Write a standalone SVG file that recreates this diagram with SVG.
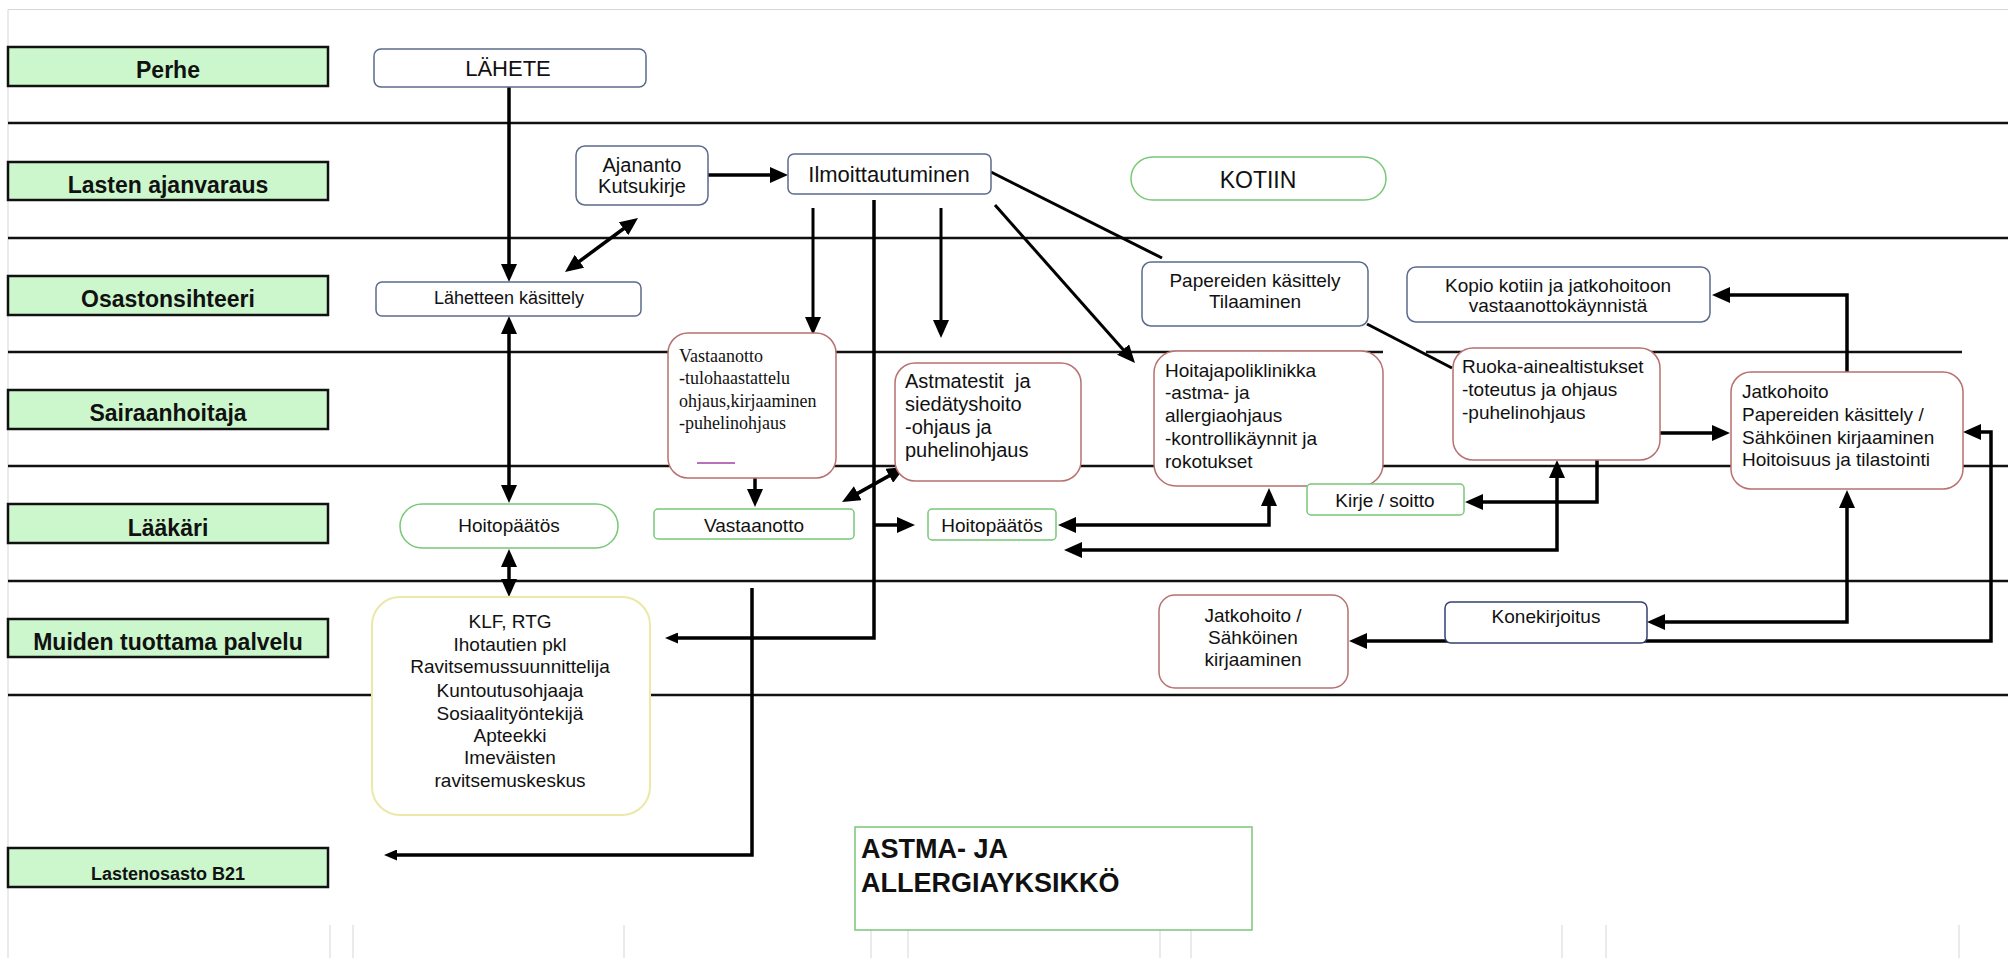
<svg xmlns="http://www.w3.org/2000/svg" width="2008" height="958" viewBox="0 0 2008 958">
<style>
text{font-family:"Liberation Sans",Arial,sans-serif;fill:#111}
.lbl{fill:#ccf7cc;stroke:#111;stroke-width:2.5}
.lt{font-weight:bold;font-size:23px;text-anchor:middle}
.lane{stroke:#111;stroke-width:2.5;fill:none}
.blue{fill:#fff;stroke:#5b6b8c;stroke-width:1.5}
.red{fill:#fff;stroke:#b87070;stroke-width:1.5}
.grn{fill:#fff;stroke:#78c878;stroke-width:1.5}
.yel{fill:#fff;stroke:#ece8a8;stroke-width:2}
.c{text-anchor:middle}
.t19{font-size:19px}
.t20{font-size:20px}
.t22{font-size:22px}
.con{stroke:#000;stroke-width:3.5;fill:none}
.thin{stroke:#000;stroke-width:3;fill:none}
.faint{stroke:#d6d6d6;stroke-width:1}
</style>
<defs>
<marker id="arr" markerUnits="userSpaceOnUse" viewBox="0 0 18 16" markerWidth="18" markerHeight="16" refX="13" refY="8" orient="auto-start-reverse"><path d="M0,0 L18,8 L0,16 Z" fill="#000"/></marker>
<marker id="arrS" markerUnits="userSpaceOnUse" viewBox="0 0 13 11" markerWidth="13" markerHeight="11" refX="8" refY="5.5" orient="auto-start-reverse"><path d="M0,0 L13,5.5 L0,11 Z" fill="#000"/></marker>
</defs>
<rect width="2008" height="958" fill="#fff"/>
<g id="frame">
<line class="faint" x1="8" y1="9.5" x2="2008" y2="9.5"/>
<line class="faint" x1="8" y1="9.5" x2="8" y2="958"/>
<line class="faint" x1="330" y1="925" x2="330" y2="958"/>
<line class="faint" x1="353" y1="925" x2="353" y2="958"/>
<line class="faint" x1="624" y1="925" x2="624" y2="958"/>
<line class="faint" x1="871" y1="930" x2="871" y2="958"/>
<line class="faint" x1="908" y1="930" x2="908" y2="958"/>
<line class="faint" x1="1160" y1="930" x2="1160" y2="958"/>
<line class="faint" x1="1191" y1="930" x2="1191" y2="958"/>
<line class="faint" x1="1562" y1="925" x2="1562" y2="958"/>
<line class="faint" x1="1606" y1="925" x2="1606" y2="958"/>
<line class="faint" x1="1959" y1="925" x2="1959" y2="958"/>
</g>
<g id="lanes">
<line class="lane" x1="8" y1="123" x2="2008" y2="123"/>
<line class="lane" x1="8" y1="238" x2="2008" y2="238"/>
<line class="lane" x1="8" y1="352" x2="1383" y2="352"/>
<line class="lane" x1="1426" y1="352" x2="1962" y2="352"/>
<line class="lane" x1="8" y1="466" x2="2008" y2="466"/>
<line class="lane" x1="8" y1="581" x2="2008" y2="581"/>
<line class="lane" x1="8" y1="695" x2="2008" y2="695"/>
</g>
<g id="lane-perhe"><rect class="lbl" x="8" y="47" width="320" height="39"/><text class="lt" x="168" y="78">Perhe</text></g>
<g id="lane-ajanvaraus"><rect class="lbl" x="8" y="162" width="320" height="38"/><text class="lt" x="168" y="193">Lasten ajanvaraus</text></g>
<g id="lane-osastonsihteeri"><rect class="lbl" x="8" y="276" width="320" height="39"/><text class="lt" x="168" y="307">Osastonsihteeri</text></g>
<g id="lane-sairaanhoitaja"><rect class="lbl" x="8" y="390" width="320" height="39"/><text class="lt" x="168" y="421">Sairaanhoitaja</text></g>
<g id="lane-laakari"><rect class="lbl" x="8" y="504" width="320" height="39"/><text class="lt" x="168" y="536">Lääkäri</text></g>
<g id="lane-muiden"><rect class="lbl" x="8" y="619" width="320" height="38"/><text class="lt" x="168" y="650">Muiden tuottama palvelu</text></g>
<g id="lane-lastenosasto"><rect class="lbl" x="8" y="848" width="320" height="39"/><text class="lt" x="168" y="880" style="font-size:18px">Lastenosasto B21</text></g>

<g id="connectors">
<path class="con" d="M509,87 V277" marker-end="url(#arr)"/>
<path class="con" d="M569,269 L634,221" marker-start="url(#arr)" marker-end="url(#arr)"/>
<path class="con" d="M708,175 H783" marker-end="url(#arr)"/>
<path class="thin" d="M813,208 V330" marker-end="url(#arr)"/>
<path class="con" d="M874,200 V638 H670" marker-end="url(#arrS)"/>
<path class="thin" d="M941,208 V333" marker-end="url(#arr)"/>
<path class="thin" d="M991,172 L1162,258"/>
<path class="thin" d="M995,205 L1131.7,359.3" marker-end="url(#arr)"/>
<path class="thin" d="M1367,324 L1452,368"/>
<path class="con" d="M509,321 V498" marker-start="url(#arr)" marker-end="url(#arr)"/>
<path class="con" d="M509,554 V592" marker-start="url(#arr)" marker-end="url(#arr)"/>
<path class="con" d="M755,462 V502" marker-start="url(#arr)" marker-end="url(#arr)"/>
<path class="con" d="M846.4,499.6 L900.6,469.4" marker-start="url(#arr)" marker-end="url(#arr)"/>
<path class="con" d="M875,525 H910" marker-end="url(#arr)"/>
<path class="con" d="M1063,525 H1269 V493" marker-start="url(#arr)" marker-end="url(#arr)"/>
<path class="con" d="M1069,550 H1557 V465" marker-start="url(#arr)" marker-end="url(#arr)"/>
<path class="con" d="M1470,502 H1597 V433 H1725" marker-start="url(#arr)" marker-end="url(#arr)"/>
<path class="con" d="M1652,622 H1847 V495" marker-start="url(#arr)" marker-end="url(#arr)"/>
<path class="con" d="M1847,373 V295 H1717" marker-end="url(#arr)"/>
<path class="con" d="M1354,641 H1991 V432 H1968" marker-start="url(#arr)" marker-end="url(#arr)"/>
<path class="con" d="M752,588 V855 H389" marker-end="url(#arrS)"/>
</g>

<g id="lahete"><rect class="blue" x="374" y="49" width="272" height="38" rx="7"/><text class="c t22" x="508" y="76">LÄHETE</text></g>
<g id="ajananto"><rect class="blue" x="576" y="146" width="132" height="59" rx="9"/><text class="c t20" x="642" y="172">Ajananto</text><text class="c t20" x="642" y="193">Kutsukirje</text></g>
<g id="ilmoittautuminen"><rect class="blue" x="788" y="154" width="203" height="40" rx="6"/><text class="c t22" x="889" y="182">Ilmoittautuminen</text></g>
<g id="kotiin"><rect class="grn" x="1131" y="157" width="255" height="43" rx="21.5"/><text class="c" x="1258" y="188" style="font-size:23px">KOTIIN</text></g>
<g id="lahetteen-kasittely"><rect class="blue" x="376" y="282" width="265" height="34" rx="6"/><text class="c" x="509" y="304" style="font-size:18px">Lähetteen käsittely</text></g>
<g id="papereiden"><rect class="blue" x="1142" y="262" width="226" height="64" rx="9"/><text class="c t19" x="1255" y="287">Papereiden käsittely</text><text class="c t19" x="1255" y="308">Tilaaminen</text></g>
<g id="kopio"><rect class="blue" x="1407" y="267" width="303" height="55" rx="9"/><text class="c t19" x="1558" y="292">Kopio kotiin ja jatkohoitoon</text><text class="c t19" x="1558" y="312">vastaanottokäynnistä</text></g>
<g id="vastaanotto-hoitaja"><rect class="red" x="668" y="333" width="168" height="145" rx="20"/>
<text x="679" y="362" style="font-family:'Liberation Serif','Times New Roman',serif;font-size:18px">Vastaanotto</text>
<text x="679" y="384" style="font-family:'Liberation Serif','Times New Roman',serif;font-size:18px">-tulohaastattelu</text>
<text x="679" y="407" style="font-family:'Liberation Serif','Times New Roman',serif;font-size:18px">ohjaus,kirjaaminen</text>
<text x="679" y="429" style="font-family:'Liberation Serif','Times New Roman',serif;font-size:18px">-puhelinohjaus</text>
<line x1="697" y1="463" x2="735" y2="463" stroke="#a040a0" stroke-width="1.5"/></g>
<g id="astmatestit"><rect class="red" x="895" y="363" width="186" height="118" rx="20"/><text class="t20" x="905" y="388">Astmatestit&#160; ja</text><text class="t20" x="905" y="411">siedätyshoito</text><text class="t20" x="905" y="434">-ohjaus ja</text><text class="t20" x="905" y="457">puhelinohjaus</text></g>
<g id="hoitajapoliklinikka"><rect class="red" x="1154" y="351" width="229" height="135" rx="22"/><text class="t19" x="1165" y="377">Hoitajapoliklinikka</text><text class="t19" x="1165" y="399">-astma- ja</text><text class="t19" x="1165" y="422">allergiaohjaus</text><text class="t19" x="1165" y="445">-kontrollikäynnit ja</text><text class="t19" x="1165" y="468">rokotukset</text></g>
<g id="ruoka"><rect class="red" x="1453" y="348" width="207" height="112" rx="20"/><text class="t19" x="1462" y="373">Ruoka-ainealtistukset</text><text class="t19" x="1462" y="396">-toteutus ja ohjaus</text><text class="t19" x="1462" y="419">-puhelinohjaus</text></g>
<g id="jatkohoito"><rect class="red" x="1731" y="372" width="232" height="117" rx="20"/><text class="t19" x="1742" y="398">Jatkohoito</text><text class="t19" x="1742" y="421">Papereiden käsittely /</text><text class="t19" x="1742" y="444">Sähköinen kirjaaminen</text><text class="t19" x="1742" y="466">Hoitoisuus ja tilastointi</text></g>
<g id="hoitopaatos-1"><rect class="grn" x="400" y="504" width="218" height="44" rx="22"/><text class="c t19" x="509" y="532">Hoitopäätös</text></g>
<g id="vastaanotto-laakari"><rect class="grn" x="654" y="509" width="200" height="30" rx="4"/><text class="c t19" x="754" y="532">Vastaanotto</text></g>
<g id="hoitopaatos-2"><rect class="grn" x="928" y="509" width="128" height="31" rx="4"/><text class="c t19" x="992" y="532">Hoitopäätös</text></g>
<g id="kirje-soitto"><rect class="grn" x="1307" y="484" width="157" height="31" rx="4"/><text class="c t19" x="1385" y="507">Kirje / soitto</text></g>
<g id="klf"><rect class="yel" x="372" y="597" width="278" height="218" rx="28"/>
<text class="c t19" x="510" y="628">KLF, RTG</text>
<text class="c t19" x="510" y="651">Ihotautien pkl</text>
<text class="c t19" x="510" y="673">Ravitsemussuunnittelija</text>
<text class="c t19" x="510" y="697">Kuntoutusohjaaja</text>
<text class="c t19" x="510" y="720">Sosiaalityöntekijä</text>
<text class="c t19" x="510" y="742">Apteekki</text>
<text class="c t19" x="510" y="764">Imeväisten</text>
<text class="c t19" x="510" y="787">ravitsemuskeskus</text></g>
<g id="jatkohoito-sahkoinen"><rect class="red" x="1159" y="595" width="189" height="93" rx="16"/><text class="c t19" x="1253" y="622">Jatkohoito /</text><text class="c t19" x="1253" y="644">Sähköinen</text><text class="c t19" x="1253" y="666">kirjaaminen</text></g>
<g id="konekirjoitus"><rect x="1445" y="602" width="202" height="41" rx="6" fill="#fff" stroke="#334070" stroke-width="1.5"/><text class="c t19" x="1546" y="623">Konekirjoitus</text></g>
<g id="astma-title"><rect x="855" y="827" width="397" height="103" fill="#fff" stroke="#78c878" stroke-width="1.5"/><text x="861" y="858" style="font-weight:bold;font-size:27px">ASTMA- JA</text><text x="861" y="892" style="font-weight:bold;font-size:27px">ALLERGIAYKSIKKÖ</text></g>
</svg>
